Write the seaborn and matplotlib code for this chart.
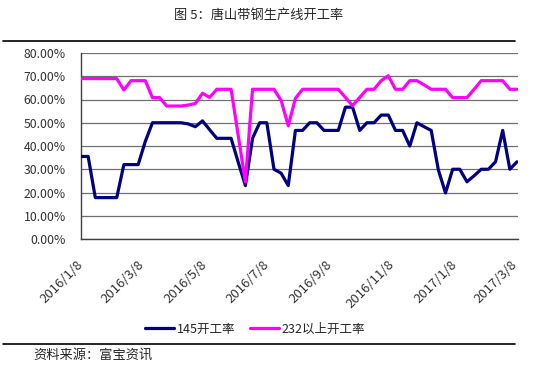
import matplotlib
matplotlib.use("Agg")
import matplotlib.pyplot as plt
from matplotlib.lines import Line2D
from matplotlib.ticker import FuncFormatter
import seaborn as sns
import pandas as pd

# ---- data ----
dates = pd.date_range("2016-01-08", periods=62, freq="7D")

rate_145 = [35.5, 35.5, 17.8, 17.8, 17.8, 17.8, 32.0, 32.0, 32.0, 42.0,
            50.0, 50.0, 50.0, 50.0, 50.0, 49.5, 48.3, 50.8, 47.0, 43.3,
            43.3, 43.3, 33.0, 23.0, 43.3, 50.0, 50.0, 30.0, 28.3, 23.0,
            46.7, 46.7, 50.0, 50.0, 46.7, 46.7, 46.7, 56.7, 56.7, 46.7,
            50.0, 50.0, 53.3, 53.3, 46.7, 46.7, 40.0, 50.0, 48.3, 46.7,
            29.7, 19.8, 30.0, 30.0, 24.6, 27.2, 30.0, 30.0, 33.2, 46.7,
            30.0, 33.2]

rate_232 = [69.0, 69.0, 69.0, 69.0, 69.0, 69.0, 64.1, 68.1, 68.1, 68.1,
            60.8, 60.8, 57.2, 57.2, 57.2, 57.6, 58.3, 62.7, 60.9, 64.4,
            64.4, 64.4, 44.5, 24.6, 64.4, 64.4, 64.4, 64.4, 59.6, 48.7,
            60.5, 64.4, 64.4, 64.4, 64.4, 64.4, 64.4, 60.9, 57.3, 60.9,
            64.4, 64.4, 68.1, 70.2, 64.4, 64.4, 68.1, 68.1, 66.3, 64.4,
            64.4, 64.4, 60.8, 60.8, 60.8, 64.4, 68.1, 68.1, 68.1, 68.1,
            64.4, 64.4]

series_names = ["145开工率", "232以上开工率"]
series_colors = ["#000080", "#FF00FF"]

tick_dates = ["2016-01-08", "2016-03-08", "2016-05-08", "2016-07-08",
              "2016-09-08", "2016-11-08", "2017-01-08", "2017-03-08"]
tick_labels = ["2016/1/8", "2016/3/8", "2016/5/8", "2016/7/8",
               "2016/9/8", "2016/11/8", "2017/1/8", "2017/3/8"]
y_ticks = [0, 10, 20, 30, 40, 50, 60, 70, 80]

title = "图 5：唐山带钢生产线开工率"
source = "资料来源：富宝资讯"

df = pd.concat([
    pd.DataFrame({"date": dates, "value": rate_145, "series": series_names[0]}),
    pd.DataFrame({"date": dates, "value": rate_232, "series": series_names[1]}),
], ignore_index=True)

# ---- style ----
sns.set_style("white")
plt.rcParams["font.family"] = ["Noto Sans CJK SC", "DejaVu Sans"]

W, H = 545, 372
fig = plt.figure(figsize=(W / 100, H / 100), dpi=100)
ax = fig.add_axes([81 / W, 1 - 239 / H, (518 - 81) / W, (239 - 53) / H])

sns.lineplot(data=df, x="date", y="value", hue="series",
             palette=series_colors, hue_order=series_names,
             linewidth=2.3, ax=ax, legend=False, zorder=3)

ax.set_ylim(0, 80)
ax.set_yticks(y_ticks)
ax.yaxis.set_major_formatter(FuncFormatter(lambda v, p: f"{v:.2f}%"))
ax.set_xlim(pd.Timestamp("2016-01-08"), pd.Timestamp("2017-03-11"))
ax.set_xticks([pd.Timestamp(d) for d in tick_dates])
ax.set_xticklabels(tick_labels, rotation=45, ha="right", va="center",
                   rotation_mode="anchor", fontsize=9.5, color="#333333")
ax.set_xlabel("")
ax.set_ylabel("")

ax.grid(axis="y", color="#707070", linewidth=0.9)
ax.grid(axis="x", visible=False)
ax.set_axisbelow(True)
for s in ["top", "right"]:
    ax.spines[s].set_visible(False)
for s in ["left", "bottom"]:
    ax.spines[s].set_color("#404040")
    ax.spines[s].set_linewidth(1.0)

ax.tick_params(axis="x", direction="in", length=4, width=1, color="#404040", pad=17)
ax.tick_params(axis="y", direction="in", length=0, pad=11, labelsize=8.8,
               labelcolor="#333333")

# legend
handles = [Line2D([0], [0], color=c, lw=2.3) for c in series_colors]
fig.legend(handles, series_names, loc="center", bbox_to_anchor=(255 / W, 1 - 329 / H),
           ncol=2, frameon=False, fontsize=9, handlelength=2.3, handletextpad=0.2,
           columnspacing=1.2)

# title, rules, source
fig.text(259 / W, 1 - 15 / H, title, ha="center", va="center", fontsize=9.5)
fig.add_artist(Line2D([3 / W, 515 / W], [1 - 41 / H, 1 - 41 / H],
                      transform=fig.transFigure, color="black", lw=1.2))
fig.add_artist(Line2D([3 / W, 515 / W], [1 - 344 / H, 1 - 344 / H],
                      transform=fig.transFigure, color="black", lw=1.2))
fig.text(33 / W, 1 - 355 / H, source, ha="left", va="center", fontsize=9.5)

fig.savefig("out.png", dpi=100)
